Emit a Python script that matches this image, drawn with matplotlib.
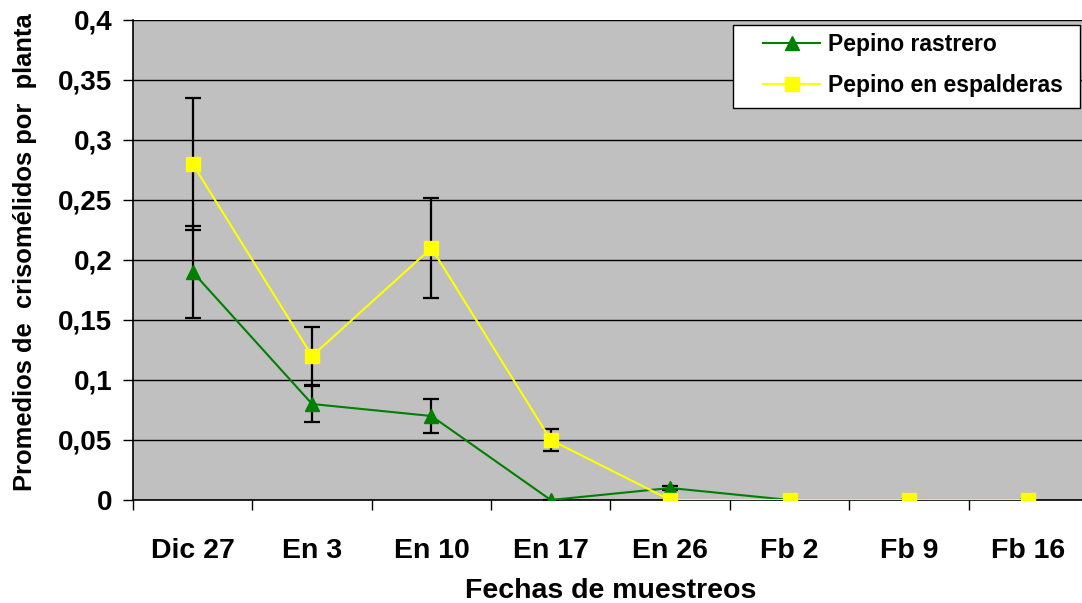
import numpy as np
import matplotlib.pyplot as plt
from matplotlib.patches import Rectangle
from matplotlib.ticker import FuncFormatter

# --- datos ---
fechas = ['Dic 27', 'En 3', 'En 10', 'En 17', 'En 26', 'Fb 2', 'Fb 9', 'Fb 16']
rastrero = [0.19, 0.08, 0.07, 0.0, 0.01, 0.0, 0.0, 0.0]
rastrero_err = [0.038, 0.015, 0.014, 0.0, 0.002, 0.0, 0.0, 0.0]
espaldera = [0.28, 0.12, 0.21, 0.05, 0.0, 0.0, 0.0, 0.0]
espaldera_err = [0.055, 0.024, 0.042, 0.009, 0.0, 0.0, 0.0, 0.0]

plt.rcParams['font.family'] = ['Liberation Sans', 'DejaVu Sans']

fig = plt.figure(figsize=(10.82, 6.03), dpi=100)
ax = fig.add_axes([133 / 1082, 1 - 500 / 603, (1088 - 133) / 1082, 480 / 603])
ax.set_facecolor('#C0C0C0')

x = np.arange(len(fechas))

# barras de error
ax.errorbar(x, rastrero, yerr=rastrero_err, fmt='none', ecolor='black',
            elinewidth=1.6, capsize=5.5, capthick=1.6, zorder=4)
ax.errorbar(x, espaldera, yerr=espaldera_err, fmt='none', ecolor='black',
            elinewidth=1.6, capsize=5.5, capthick=1.6, zorder=4)

ax.plot(x, rastrero, '-', color='#008000', lw=1.5, marker='^', ms=10,
        mec='#008000', mfc='#008000', label='Pepino rastrero', zorder=5)
ax.plot(x, espaldera, '-', color='#FFFF00', lw=1.5, marker='s', ms=10,
        mec='#FFFF00', mfc='#FFFF00', label='Pepino en espalderas', zorder=6)

ax.set_xlim(-0.5, len(fechas) - 0.5)
ax.set_ylim(0, 0.4)
ax.set_yticks(np.arange(0, 0.401, 0.05))
ax.yaxis.set_major_formatter(FuncFormatter(lambda v, p: ('%g' % round(v, 2)).replace('.', ',')))
ax.grid(axis='y', color='black', lw=1.0)
ax.set_axisbelow(True)

ax.set_xticks(x)
ax.set_xticklabels(fechas, fontsize=20.5, fontweight='bold')
ax.set_xticks(np.arange(-0.5, len(fechas), 1), minor=True)
ax.tick_params(axis='x', which='major', length=0, pad=27)
ax.tick_params(axis='x', which='minor', length=7, width=1, direction='out')
ax.tick_params(axis='y', length=7, width=1, direction='out', labelsize=20, pad=8)
for lab in ax.get_yticklabels():
    lab.set_fontweight('bold')

for s in ['top', 'right']:
    ax.spines[s].set_visible(False)
ax.spines['left'].set_linewidth(1.2)
ax.spines['bottom'].set_linewidth(1.2)

ax.set_xlabel('Fechas de muestreos', fontsize=20.5, fontweight='bold', labelpad=10.5)
ax.set_ylabel('Promedios de  crisomélidos por  planta', fontsize=18.4, fontweight='bold')
ax.yaxis.set_label_coords(-0.101, 0.517)

# cuadro de la leyenda
ax.add_patch(Rectangle((0.6283, 0.8167), 0.3634, 0.1729, transform=ax.transAxes,
                       facecolor='white', edgecolor='black', lw=1.0, zorder=7,
                       clip_on=False))
leg = ax.legend(loc='upper left', bbox_to_anchor=(0.6597, 0.973), borderaxespad=0,
                frameon=False, prop={'weight': 'bold', 'size': 16.5},
                handlelength=2.5, handletextpad=0.32, borderpad=0, labelspacing=0.8)
leg.set_zorder(8)

fig.savefig('out.png', dpi=100)
